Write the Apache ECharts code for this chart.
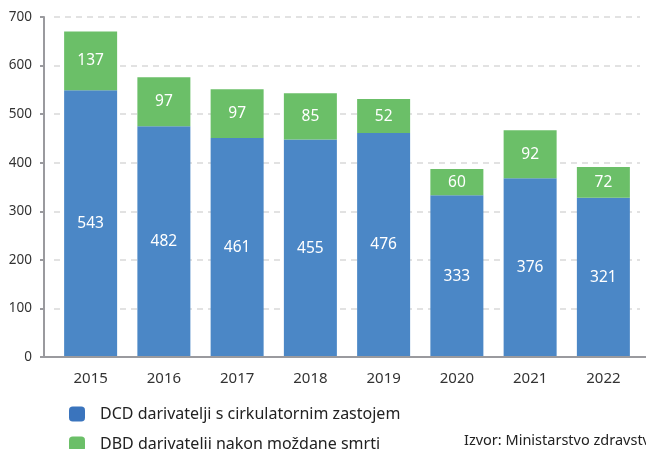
<!DOCTYPE html>
<html>
<head>
<meta charset="utf-8">
<script src="https://cdn.jsdelivr.net/npm/echarts@6/dist/echarts.min.js"></script>
<style>
  html, body { margin: 0; padding: 0; background: #fff; }
  #chart { width: 646px; height: 449px; }
</style>
</head>
<body>
<div id="chart"></div>
<script>
// godine
const years = ['2015', '2016', '2017', '2018', '2019', '2020', '2021', '2022']
// visine stupaca ocitane sa slike
const dcdValues = [549, 475, 451, 448, 461, 333, 368, 328]
const dbdValues = [121, 101, 100, 95, 70, 54, 99, 63]
// brojke ispisane na stupcima
const dcdLabels = [543, 482, 461, 455, 476, 333, 376, 321]
const dbdLabels = [137, 97, 97, 85, 52, 60, 92, 72]
const yTicks = [0, 100, 200, 300, 400, 500, 600, 700]

const FONT = 'Noto Sans'
const BLUE = '#4b87c6'
const GREEN = '#6bbf68'
const AXIS = '#9a9a9e'

const chart = echarts.init(document.getElementById('chart'))

const optionData = {
  animation: false,
  textStyle: { fontFamily: FONT },
  grid: { left: 54, right: 6, top: 17, bottom: 92 },
  legend: {
    orient: 'vertical',
    left: 69,
    top: 406,
    height: 60,
    padding: 0,
    itemWidth: 16,
    itemHeight: 15,
    itemGap: 14,
    icon: 'roundRect',
    textStyle: { fontFamily: FONT, fontSize: 16, color: '#222', padding: [0, 0, 0, 10] },
    data: [
      { name: 'DCD darivatelji s cirkulatornim zastojem', itemStyle: { color: '#3a74bd' } },
      { name: 'DBD darivatelji nakon moždane smrti', itemStyle: { color: '#6bbf68' } }
    ]
  },
  graphic: [
    {
      // os x u originalu ide od ruba do ruba
      type: 'line',
      shape: { x1: 40, y1: 357, x2: 646, y2: 357 },
      style: { stroke: AXIS, lineWidth: 2 },
      z: 10
    },
    {
      type: 'text',
      left: 464,
      top: 433,
      style: { text: 'Izvor: Ministarstvo zdravstva', fontFamily: FONT, fontSize: 14.5, fill: '#222' }
    }
  ],
  xAxis: {
    type: 'category',
    data: years,
    axisLine: { lineStyle: { color: AXIS, width: 2 } },
    axisTick: { show: false },
    axisLabel: { fontSize: 15, color: '#333', margin: 14, fontFamily: FONT }
  },
  yAxis: {
    type: 'value',
    min: yTicks[0],
    max: yTicks[yTicks.length - 1],
    interval: 100,
    offset: 10,
    axisLine: { show: true, lineStyle: { color: AXIS, width: 2 } },
    axisTick: { show: true, length: 4, lineStyle: { color: AXIS, width: 2 } },
    axisLabel: { fontSize: 13.5, color: '#333', margin: 12, fontFamily: FONT },
    splitLine: { lineStyle: { color: '#d9d9d9', type: [6, 5], width: 1.5 } }
  },
  series: [
    {
      name: 'DCD darivatelji s cirkulatornim zastojem',
      type: 'bar',
      stack: 'total',
      barWidth: 53,
      data: dcdValues,
      itemStyle: { color: BLUE },
      label: {
        show: true,
        position: 'inside',
        color: '#fff',
        fontSize: 15.5,
        fontFamily: FONT,
        formatter: p => dcdLabels[p.dataIndex]
      }
    },
    {
      name: 'DBD darivatelji nakon moždane smrti',
      type: 'bar',
      stack: 'total',
      barWidth: 53,
      data: dbdValues,
      itemStyle: { color: GREEN },
      label: {
        show: true,
        position: 'inside',
        color: '#fff',
        fontSize: 15.5,
        fontFamily: FONT,
        formatter: p => dbdLabels[p.dataIndex]
      }
    }
  ]
}
chart.setOption(optionData)
</script>
</body>
</html>
